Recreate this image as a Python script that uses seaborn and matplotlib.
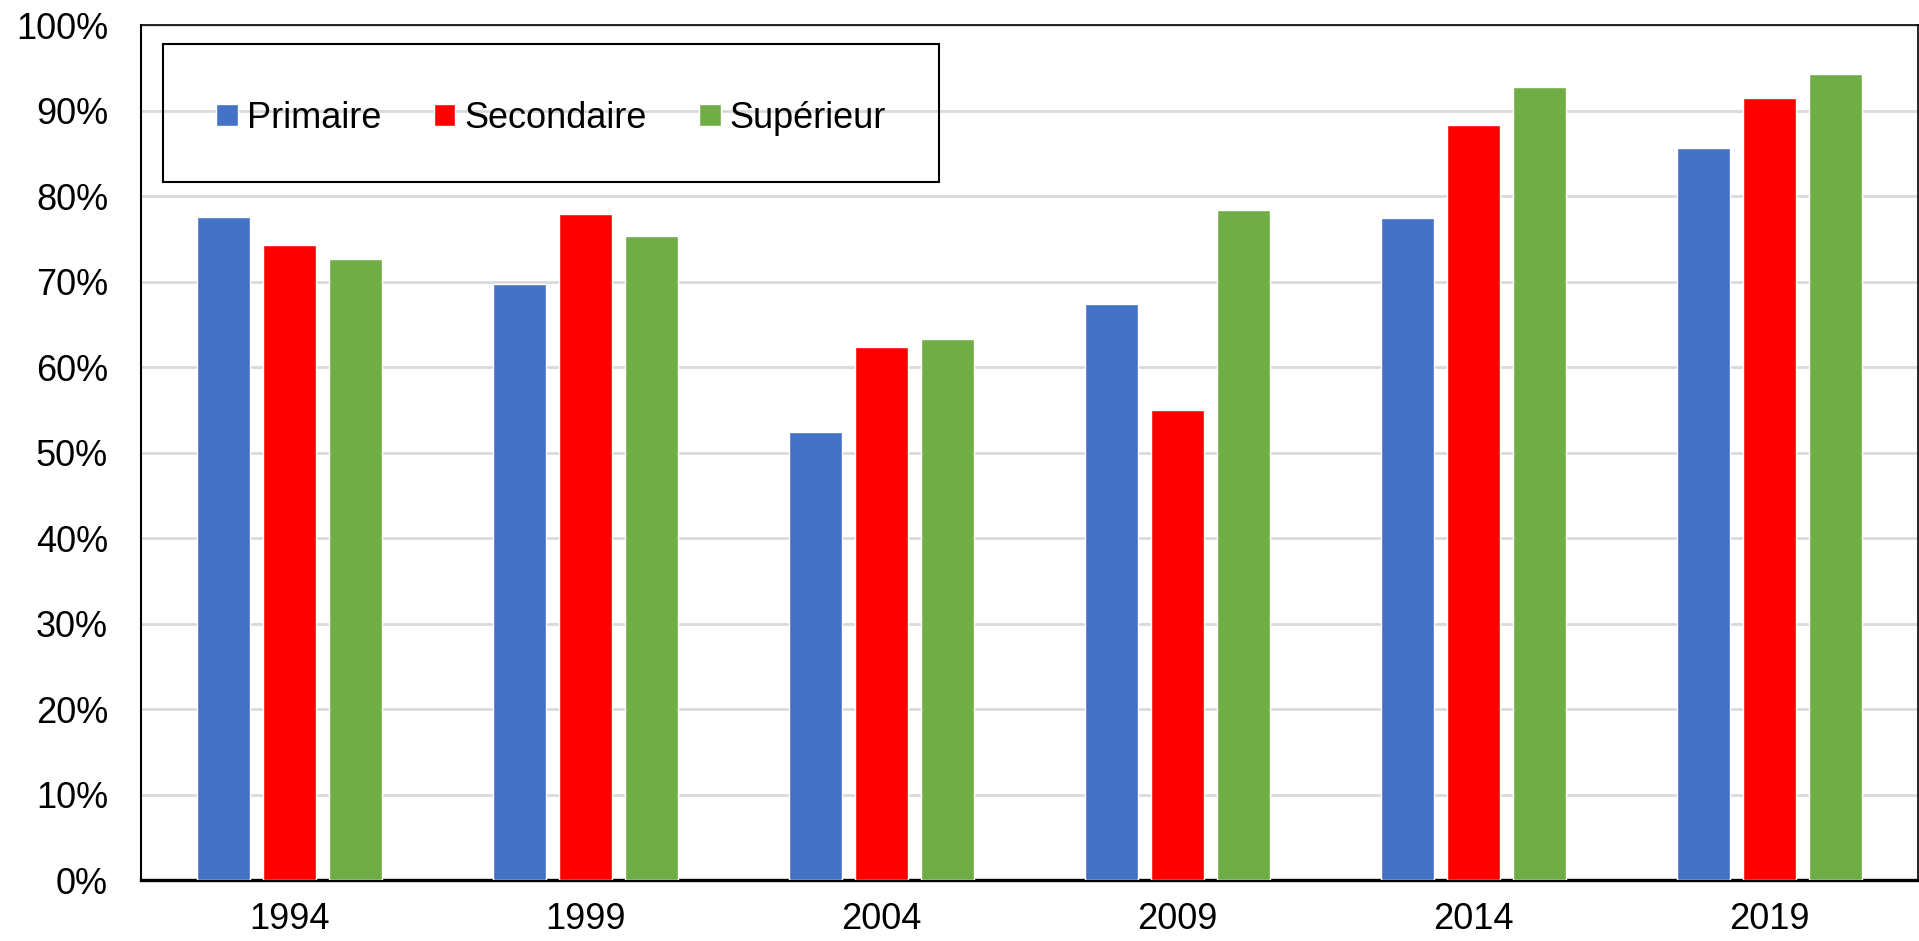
import pandas as pd
import seaborn as sns
import matplotlib.pyplot as plt
import matplotlib.ticker as mtick
from matplotlib.patches import Rectangle

years = ["1994", "1999", "2004", "2009", "2014", "2019"]
primaire = [77.5, 69.7, 52.4, 67.4, 77.4, 85.6]
secondaire = [74.3, 77.9, 62.3, 55.0, 88.3, 91.5]
superieur = [72.6, 75.3, 63.3, 78.4, 92.8, 94.3]
niveaux = ["Primaire", "Secondaire", "Supérieur"]
colors = ["#4472C4", "#FF0000", "#70AD47"]

df = pd.DataFrame({"Année": years, "Primaire": primaire,
                   "Secondaire": secondaire, "Supérieur": superieur})
long = df.melt(id_vars="Année", var_name="Niveau", value_name="Taux")

sns.set_style("white")
plt.rcParams["font.family"] = ["Liberation Sans", "DejaVu Sans"]
plt.rcParams["text.color"] = "black"
plt.rcParams["xtick.color"] = "black"
plt.rcParams["ytick.color"] = "black"

fig = plt.figure(figsize=(19.19, 9.41), dpi=100)
ax = fig.add_axes([0.0737, 0.0648, 0.9257, 0.9086])

sns.barplot(data=long, x="Année", y="Taux", hue="Niveau", hue_order=niveaux,
            palette=colors, width=0.67, gap=0.2, saturation=1, ax=ax, zorder=3)

ax.set_ylim(0, 100)
ax.set_xlim(-0.5, len(years) - 0.5)
ax.yaxis.set_major_locator(mtick.MultipleLocator(10))
ax.yaxis.set_major_formatter(mtick.PercentFormatter(decimals=0))
ax.grid(axis="y", color="#d9d9d9", linewidth=2, zorder=0)
ax.set_axisbelow(True)
ax.set_xlabel("")
ax.set_ylabel("")
ax.tick_params(axis="both", length=0, labelsize=26, labelcolor="black")
ax.tick_params(axis="x", pad=16)
ax.tick_params(axis="y", pad=24)

for side in ["top", "right"]:
    ax.spines[side].set_color("black")
    ax.spines[side].set_linewidth(1.2)
ax.spines["left"].set_color("black")
ax.spines["left"].set_linewidth(1.5)
ax.spines["bottom"].set_color("black")
ax.spines["bottom"].set_linewidth(2.4)

# legend frame drawn as a plain box
ax.add_patch(Rectangle((0.0121, 0.816), 0.437, 0.162, transform=ax.transAxes,
                       fill=False, edgecolor="black", linewidth=1.5, zorder=5))
leg = ax.legend(loc="center", bbox_to_anchor=(0.0121, 0.81, 0.437, 0.162), ncol=3,
                frameon=False, fontsize=26, handlelength=0.6, handleheight=0.6,
                handletextpad=0.25, columnspacing=1.45, borderaxespad=0)
for t in leg.get_texts():
    t.set_color("black")

fig.savefig("out.png", dpi=100)
